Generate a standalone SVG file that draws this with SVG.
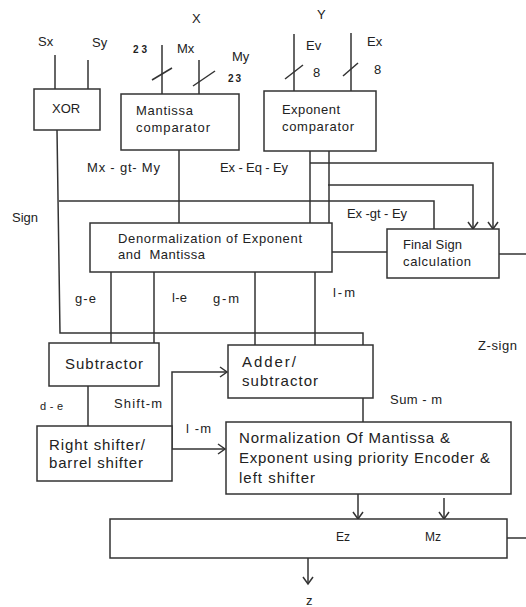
<svg xmlns="http://www.w3.org/2000/svg" width="526" height="607" viewBox="0 0 526 607">
<style>
  .box { fill: #fff; stroke: #333; stroke-width: 1.5; }
  .ln { fill: none; stroke: #333; stroke-width: 1.5; }
  .t { font-family: "Liberation Sans", Arial, sans-serif; font-size: 13px; fill: #222; }
  .s { font-family: "Liberation Sans", Arial, sans-serif; font-size: 13px; fill: #222; }
  .b { font-family: "Liberation Sans", Arial, sans-serif; font-size: 15px; fill: #222; }
  .tiny { font-family: "Liberation Sans", Arial, sans-serif; font-size: 10px; font-weight: bold; fill: #222; }
</style>
<defs>
  <marker id="arr" viewBox="-8 -6 10 12" markerWidth="10" markerHeight="12" refX="0" refY="0" orient="auto" markerUnits="userSpaceOnUse">
    <path d="M-7,-5 L0,0 L-7,5" fill="none" stroke="#333" stroke-width="1.5"/>
  </marker>
</defs>
<rect width="526" height="607" fill="#fff"/>

<g id="connectors">
  <path class="ln" d="M55 55 V89"/>
  <path class="ln" d="M88 60 V89"/>
  <path class="ln" d="M162 45 V94"/>
  <path class="ln" d="M152 80 L172 68"/>
  <path class="ln" d="M199 60 V94"/>
  <path class="ln" d="M193 86 L215 71"/>
  <path class="ln" d="M294 34 V91"/>
  <path class="ln" d="M285 79 L303 65"/>
  <path class="ln" d="M351 33 V91"/>
  <path class="ln" d="M343 76 L358 63"/>
  <path class="ln" d="M57 130 L60 333 H363 V345"/>
  <path class="ln" d="M59 201 H434 V229"/>
  <path class="ln" d="M179 150 V223"/>
  <path class="ln" d="M310 151 V223"/>
  <path class="ln" d="M310 163 H493 V229" marker-end="url(#arr)"/>
  <path class="ln" d="M329 151 V223"/>
  <path class="ln" d="M328 185 H473 V229" marker-end="url(#arr)"/>
  <path class="ln" d="M332 252 H387"/>
  <path class="ln" d="M499 254 H526"/>
  <path class="ln" d="M111 272 V343"/>
  <path class="ln" d="M154 272 V343"/>
  <path class="ln" d="M255 272 V345"/>
  <path class="ln" d="M315 272 V345"/>
  <path class="ln" d="M88 386 V426"/>
  <path class="ln" d="M172 449 V372 H227" marker-end="url(#arr)"/>
  <path class="ln" d="M172 449 H225" marker-end="url(#arr)"/>
  <path class="ln" d="M363 398 V422"/>
  <path class="ln" d="M358 494 V519" marker-end="url(#arr)"/>
  <path class="ln" d="M444 498 V519" marker-end="url(#arr)"/>
  <path class="ln" d="M507 538 H526"/>
  <path class="ln" d="M308 558 V584" marker-end="url(#arr)"/>
</g>

<g id="labels">
  <text class="t" x="38" y="46">Sx</text>
  <text class="t" x="92" y="47">Sy</text>
  <text class="t" x="192" y="23">X</text>
  <text class="tiny" x="133" y="53" textLength="14">23</text>
  <text class="t" x="177" y="53">Mx</text>
  <text class="t" x="232" y="61">My</text>
  <text class="tiny" x="228" y="82" textLength="13">23</text>
  <text class="t" x="317" y="19">Y</text>
  <text class="t" x="306" y="50">Ev</text>
  <text class="t" x="313" y="77">8</text>
  <text class="t" x="367" y="46">Ex</text>
  <text class="t" x="374" y="74">8</text>
  <text class="s" x="87" y="172" textLength="73">Mx - gt- My</text>
  <text class="s" x="220" y="172" textLength="68">Ex - Eq - Ey</text>
  <text class="s" x="12" y="222">Sign</text>
  <text class="s" x="347" y="218" textLength="60">Ex -gt - Ey</text>
  <text class="s" x="75" y="303" textLength="21">g-e</text>
  <text class="s" x="172" y="302" textLength="15">l-e</text>
  <text class="s" x="213" y="303" textLength="26">g-m</text>
  <text class="s" x="333" y="297" textLength="22">l-m</text>
  <text class="s" x="40" y="410" style="font-size:11px" textLength="23">d - e</text>
  <text class="s" x="114" y="408" textLength="48">Shift-m</text>
  <text class="s" x="186" y="433" textLength="25">l -m</text>
  <text class="s" x="390" y="404" textLength="52">Sum - m</text>
  <text class="s" x="478" y="350" textLength="39">Z-sign</text>
  <text class="s" x="306" y="605">z</text>
</g>

<g id="xor">
  <rect class="box" x="34" y="89" width="66" height="41"/>
  <text class="t" x="52" y="113">XOR</text>
</g>
<g id="mantissa-comparator">
  <rect class="box" x="121" y="94" width="118" height="56"/>
  <text class="t" x="136" y="115" textLength="57">Mantissa</text>
  <text class="t" x="136" y="132" textLength="74">comparator</text>
</g>
<g id="exponent-comparator">
  <rect class="box" x="264" y="91" width="112" height="60"/>
  <text class="t" x="282" y="114" textLength="58">Exponent</text>
  <text class="t" x="282" y="131" textLength="72">comparator</text>
</g>
<g id="denormalization">
  <rect class="box" x="90" y="223" width="242" height="49"/>
  <text class="s" x="118" y="243" textLength="184">Denormalization of Exponent</text>
  <text class="s" x="118" y="259" textLength="87" xml:space="preserve">and  Mantissa</text>
</g>
<g id="final-sign">
  <rect class="box" x="387" y="229" width="112" height="49"/>
  <text class="t" x="403" y="249" textLength="59">Final Sign</text>
  <text class="t" x="403" y="266" textLength="68">calculation</text>
</g>
<g id="subtractor">
  <rect class="box" x="49" y="343" width="110" height="43"/>
  <text class="b" x="65" y="369" textLength="78">Subtractor</text>
</g>
<g id="adder">
  <rect class="box" x="228" y="345" width="145" height="53"/>
  <text class="b" x="242" y="367" textLength="54">Adder/</text>
  <text class="b" x="242" y="386" textLength="76">subtractor</text>
</g>
<g id="right-shifter">
  <rect class="box" x="37" y="426" width="135" height="55"/>
  <text class="b" x="49" y="450" textLength="96">Right shifter/</text>
  <text class="b" x="49" y="468" textLength="94">barrel shifter</text>
</g>
<g id="normalization">
  <rect class="box" x="226" y="422" width="285" height="72"/>
  <text class="b" x="239" y="443" textLength="211">Normalization Of Mantissa &amp;</text>
  <text class="b" x="239" y="463" textLength="251">Exponent using priority Encoder &amp;</text>
  <text class="b" x="239" y="483" textLength="76">left shifter</text>
</g>
<g id="output">
  <rect class="box" x="110" y="519" width="397" height="39"/>
  <text class="s" x="336" y="541" style="font-size:12px">Ez</text>
  <text class="s" x="425" y="541" style="font-size:12px">Mz</text>
</g>
</svg>
